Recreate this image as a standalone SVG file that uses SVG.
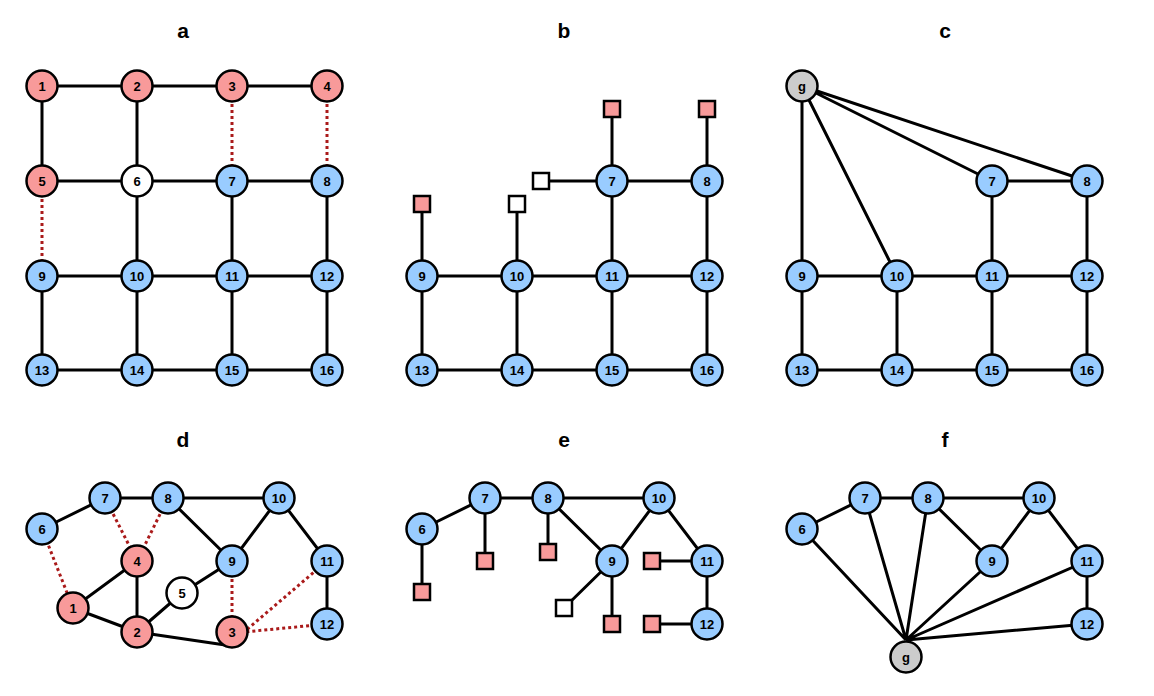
<svg xmlns="http://www.w3.org/2000/svg" width="1154" height="696" viewBox="0 0 1154 696">
<style>
.e{stroke:#000;stroke-width:3;fill:none}
.d{stroke:#AA1A1A;stroke-width:3;stroke-dasharray:3 3;fill:none}
circle{stroke:#000;stroke-width:2.5}
rect.s{stroke:#000;stroke-width:2.5}
.r{fill:#F89A9A}
.b{fill:#99CCFF}
.w{fill:#FFFFFF}
.g{fill:#CCCCCC}
text{font-family:"Liberation Sans",Arial,sans-serif;font-weight:bold;text-anchor:middle}
.l{font-size:13px}
.t{font-size:21px}
</style>
<rect width="1154" height="696" fill="#fff"/>
<g id="titles">
<text class="t" x="183" y="38">a</text>
<text class="t" x="564" y="38">b</text>
<text class="t" x="945" y="38">c</text>
<text class="t" x="183" y="447">d</text>
<text class="t" x="564" y="447">e</text>
<text class="t" x="945" y="447">f</text>
</g>
<g id="connectors">
<path class="e" d="M42 86H327M42 181H327M42 276H327M42 370H327M42 86V181M137 86V370M42 276V370M232 181V370M327 181V370"/>
<path class="d" d="M232 86V181M327 86V181M42 181V276"/>
<path class="e" d="M422 276H707M422 370H707M612 181H707M541 181H612M422 204V370M517 204V370M612 109V370M707 109V370"/>
<path class="e" d="M802 276H1087M802 370H1087M992 181H1087M802 86V370M897 276V370M992 181V370M1087 181V370M802 86L897 276M802 86L992 181M802 86L1087 181"/>
<path class="e" d="M42 529L105 498L168 498L279 498M168 498L232 561L279 498L327 561L327 624M137 561L73 608L137 632L137 561M137 632L182 593L232 561M137 632L232 646"/>
<path class="d" d="M42 529L73 608M105 498L137 561M168 498L137 561M232 561L232 632M327 561L244 632M327 624L244 632"/>
<path class="e" d="M422 529L485 498L548 498L659 498M548 498L612 561L659 498L707 561L707 624M422 529V592M485 498V561M548 498V552M612 561L564 608M612 561V624M707 561H652M707 624H652"/>
<path class="e" d="M802 529L865 498L928 498L1039 498M928 498L992 561L1039 498L1087 561L1087 624M906 640L802 529M906 640L865 498M906 640L928 498M906 640L992 561M906 640L1087 561M906 640L1087 624"/>
</g>
<g id="panel-a">
<g id="a1"><circle class="r" cx="42" cy="86" r="15.5"/><text class="l" x="42" y="91">1</text></g>
<g id="a2"><circle class="r" cx="137" cy="86" r="15.5"/><text class="l" x="137" y="91">2</text></g>
<g id="a3"><circle class="r" cx="232" cy="86" r="15.5"/><text class="l" x="232" y="91">3</text></g>
<g id="a4"><circle class="r" cx="327" cy="86" r="15.5"/><text class="l" x="327" y="91">4</text></g>
<g id="a5"><circle class="r" cx="42" cy="181" r="15.5"/><text class="l" x="42" y="186">5</text></g>
<g id="a6"><circle class="w" cx="137" cy="181" r="15.5"/><text class="l" x="137" y="186">6</text></g>
<g id="a7"><circle class="b" cx="232" cy="181" r="15.5"/><text class="l" x="232" y="186">7</text></g>
<g id="a8"><circle class="b" cx="327" cy="181" r="15.5"/><text class="l" x="327" y="186">8</text></g>
<g id="a9"><circle class="b" cx="42" cy="276" r="15.5"/><text class="l" x="42" y="281">9</text></g>
<g id="a10"><circle class="b" cx="137" cy="276" r="15.5"/><text class="l" x="137" y="281">10</text></g>
<g id="a11"><circle class="b" cx="232" cy="276" r="15.5"/><text class="l" x="232" y="281">11</text></g>
<g id="a12"><circle class="b" cx="327" cy="276" r="15.5"/><text class="l" x="327" y="281">12</text></g>
<g id="a13"><circle class="b" cx="42" cy="370" r="15.5"/><text class="l" x="42" y="375">13</text></g>
<g id="a14"><circle class="b" cx="137" cy="370" r="15.5"/><text class="l" x="137" y="375">14</text></g>
<g id="a15"><circle class="b" cx="232" cy="370" r="15.5"/><text class="l" x="232" y="375">15</text></g>
<g id="a16"><circle class="b" cx="327" cy="370" r="15.5"/><text class="l" x="327" y="375">16</text></g>
</g>
<g id="panel-b">
<g id="b-s7"><rect class="s r" x="604" y="101" width="16" height="16"/></g>
<g id="b-s8"><rect class="s r" x="699" y="101" width="16" height="16"/></g>
<g id="b-s9"><rect class="s r" x="414" y="196" width="16" height="16"/></g>
<g id="b-s10"><rect class="s w" x="509" y="196" width="16" height="16"/></g>
<g id="b-s7w"><rect class="s w" x="533" y="173" width="16" height="16"/></g>
<g id="b7"><circle class="b" cx="612" cy="181" r="15.5"/><text class="l" x="612" y="186">7</text></g>
<g id="b8"><circle class="b" cx="707" cy="181" r="15.5"/><text class="l" x="707" y="186">8</text></g>
<g id="b9"><circle class="b" cx="422" cy="276" r="15.5"/><text class="l" x="422" y="281">9</text></g>
<g id="b10"><circle class="b" cx="517" cy="276" r="15.5"/><text class="l" x="517" y="281">10</text></g>
<g id="b11"><circle class="b" cx="612" cy="276" r="15.5"/><text class="l" x="612" y="281">11</text></g>
<g id="b12"><circle class="b" cx="707" cy="276" r="15.5"/><text class="l" x="707" y="281">12</text></g>
<g id="b13"><circle class="b" cx="422" cy="370" r="15.5"/><text class="l" x="422" y="375">13</text></g>
<g id="b14"><circle class="b" cx="517" cy="370" r="15.5"/><text class="l" x="517" y="375">14</text></g>
<g id="b15"><circle class="b" cx="612" cy="370" r="15.5"/><text class="l" x="612" y="375">15</text></g>
<g id="b16"><circle class="b" cx="707" cy="370" r="15.5"/><text class="l" x="707" y="375">16</text></g>
</g>
<g id="panel-c">
<g id="cg"><circle class="g" cx="802" cy="86" r="15.5"/><text class="l" x="802" y="91">g</text></g>
<g id="c7"><circle class="b" cx="992" cy="181" r="15.5"/><text class="l" x="992" y="186">7</text></g>
<g id="c8"><circle class="b" cx="1087" cy="181" r="15.5"/><text class="l" x="1087" y="186">8</text></g>
<g id="c9"><circle class="b" cx="802" cy="276" r="15.5"/><text class="l" x="802" y="281">9</text></g>
<g id="c10"><circle class="b" cx="897" cy="276" r="15.5"/><text class="l" x="897" y="281">10</text></g>
<g id="c11"><circle class="b" cx="992" cy="276" r="15.5"/><text class="l" x="992" y="281">11</text></g>
<g id="c12"><circle class="b" cx="1087" cy="276" r="15.5"/><text class="l" x="1087" y="281">12</text></g>
<g id="c13"><circle class="b" cx="802" cy="370" r="15.5"/><text class="l" x="802" y="375">13</text></g>
<g id="c14"><circle class="b" cx="897" cy="370" r="15.5"/><text class="l" x="897" y="375">14</text></g>
<g id="c15"><circle class="b" cx="992" cy="370" r="15.5"/><text class="l" x="992" y="375">15</text></g>
<g id="c16"><circle class="b" cx="1087" cy="370" r="15.5"/><text class="l" x="1087" y="375">16</text></g>
</g>
<g id="panel-d">
<g id="d1"><circle class="r" cx="73" cy="608" r="15.5"/><text class="l" x="73" y="613">1</text></g>
<g id="d2"><circle class="r" cx="137" cy="632" r="15.5"/><text class="l" x="137" y="637">2</text></g>
<g id="d3"><circle class="r" cx="232" cy="632" r="15.5"/><text class="l" x="232" y="637">3</text></g>
<g id="d4"><circle class="r" cx="137" cy="561" r="15.5"/><text class="l" x="137" y="566">4</text></g>
<g id="d5"><circle class="w" cx="182" cy="593" r="15.5"/><text class="l" x="182" y="598">5</text></g>
<g id="d6"><circle class="b" cx="42" cy="529" r="15.5"/><text class="l" x="42" y="534">6</text></g>
<g id="d7"><circle class="b" cx="105" cy="498" r="15.5"/><text class="l" x="105" y="503">7</text></g>
<g id="d8"><circle class="b" cx="168" cy="498" r="15.5"/><text class="l" x="168" y="503">8</text></g>
<g id="d9"><circle class="b" cx="232" cy="561" r="15.5"/><text class="l" x="232" y="566">9</text></g>
<g id="d10"><circle class="b" cx="279" cy="498" r="15.5"/><text class="l" x="279" y="503">10</text></g>
<g id="d11"><circle class="b" cx="327" cy="561" r="15.5"/><text class="l" x="327" y="566">11</text></g>
<g id="d12"><circle class="b" cx="327" cy="624" r="15.5"/><text class="l" x="327" y="629">12</text></g>
</g>
<g id="panel-e">
<g id="e-s6"><rect class="s r" x="414" y="584" width="16" height="16"/></g>
<g id="e-s7"><rect class="s r" x="477" y="553" width="16" height="16"/></g>
<g id="e-s8"><rect class="s r" x="540" y="544" width="16" height="16"/></g>
<g id="e-s9w"><rect class="s w" x="556" y="600" width="16" height="16"/></g>
<g id="e-s9"><rect class="s r" x="604" y="616" width="16" height="16"/></g>
<g id="e-s11"><rect class="s r" x="644" y="553" width="16" height="16"/></g>
<g id="e-s12"><rect class="s r" x="644" y="616" width="16" height="16"/></g>
<g id="e6"><circle class="b" cx="422" cy="529" r="15.5"/><text class="l" x="422" y="534">6</text></g>
<g id="e7"><circle class="b" cx="485" cy="498" r="15.5"/><text class="l" x="485" y="503">7</text></g>
<g id="e8"><circle class="b" cx="548" cy="498" r="15.5"/><text class="l" x="548" y="503">8</text></g>
<g id="e9"><circle class="b" cx="612" cy="561" r="15.5"/><text class="l" x="612" y="566">9</text></g>
<g id="e10"><circle class="b" cx="659" cy="498" r="15.5"/><text class="l" x="659" y="503">10</text></g>
<g id="e11"><circle class="b" cx="707" cy="561" r="15.5"/><text class="l" x="707" y="566">11</text></g>
<g id="e12"><circle class="b" cx="707" cy="624" r="15.5"/><text class="l" x="707" y="629">12</text></g>
</g>
<g id="panel-f">
<g id="f6"><circle class="b" cx="802" cy="529" r="15.5"/><text class="l" x="802" y="534">6</text></g>
<g id="f7"><circle class="b" cx="865" cy="498" r="15.5"/><text class="l" x="865" y="503">7</text></g>
<g id="f8"><circle class="b" cx="928" cy="498" r="15.5"/><text class="l" x="928" y="503">8</text></g>
<g id="f9"><circle class="b" cx="992" cy="561" r="15.5"/><text class="l" x="992" y="566">9</text></g>
<g id="f10"><circle class="b" cx="1039" cy="498" r="15.5"/><text class="l" x="1039" y="503">10</text></g>
<g id="f11"><circle class="b" cx="1087" cy="561" r="15.5"/><text class="l" x="1087" y="566">11</text></g>
<g id="f12"><circle class="b" cx="1087" cy="624" r="15.5"/><text class="l" x="1087" y="629">12</text></g>
<g id="fg"><circle class="g" cx="906" cy="657" r="15.5"/><text class="l" x="906" y="662">g</text></g>
</g>
</svg>
